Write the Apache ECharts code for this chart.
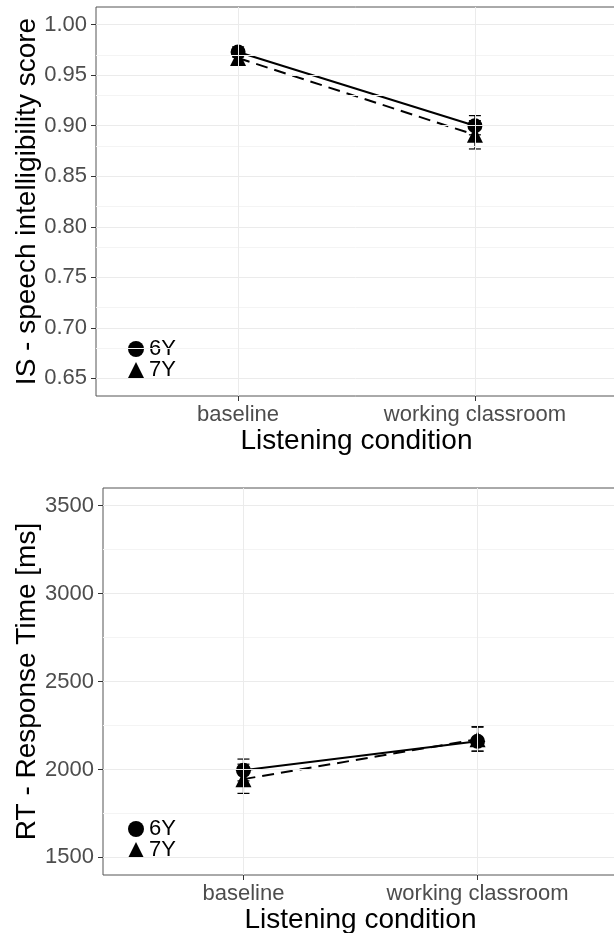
<!DOCTYPE html>
<html>
<head>
<meta charset="utf-8">
<script src="https://cdn.jsdelivr.net/npm/echarts@6/dist/echarts.min.js"></script>
<style>
html,body{margin:0;padding:0;background:#fff;}
#chart{width:614px;height:933px;}
</style>
</head>
<body>
<div id="chart"></div>
<script>
// ---------- data ----------
const categories = ['baseline', 'working classroom'];
const xPositions = [1, 2];
const groups = ['6Y', '7Y'];

// IS - speech intelligibility score
const isMean6Y = [0.973, 0.900];
const isMean7Y = [0.967, 0.891];
const isLow6Y  = [0.968, 0.891];
const isHigh6Y = [0.978, 0.910];
const isLow7Y  = [0.960, 0.877];
const isHigh7Y = [0.974, 0.905];

// RT - response time [ms]
const rtMean6Y = [1995, 2160];
const rtMean7Y = [1945, 2172];
const rtLow6Y  = [1935, 2104];
const rtHigh6Y = [2059, 2240];
const rtLow7Y  = [1864, 2104];
const rtHigh7Y = [2030, 2245];

// ticks
const isTicks = [0.65, 0.70, 0.75, 0.80, 0.85, 0.90, 0.95, 1.00];
const isMinor = [0.675, 0.725, 0.775, 0.825, 0.875, 0.925, 0.975];
const rtTicks = [1500, 2000, 2500, 3000, 3500];
const rtMinor = [1750, 2250, 2750, 3250];

// ---------- helpers ----------
const FONT = '"Liberation Sans", Arial, Helvetica, sans-serif';
const GRID_MAJOR = '#ebebeb';
const GRID_MINOR = '#f4f4f4';

function pairs(vals) { return xPositions.map((x, i) => [x, vals[i]]); }
function triples(lo, hi) { return xPositions.map((x, i) => [x, lo[i], hi[i]]); }

function gridLineSeries(gi, majors, minors) {
  const data = [];
  minors.forEach(v => data.push({ yAxis: v, lineStyle: { color: GRID_MINOR, width: 1, type: 'solid' } }));
  majors.forEach(v => data.push({ yAxis: v, lineStyle: { color: GRID_MAJOR, width: 1, type: 'solid' } }));
  xPositions.forEach(v => data.push({ xAxis: v, lineStyle: { color: GRID_MAJOR, width: 1, type: 'solid' } }));
  return {
    type: 'line', name: 'grid' + gi, xAxisIndex: gi, yAxisIndex: gi, data: [], z: 0,
    silent: true,
    markLine: { silent: true, symbol: ['none', 'none'], label: { show: false }, animation: false,
      emphasis: { disabled: true }, data: data }
  };
}

function errSeries(gi, name, lo, hi) {
  return {
    type: 'custom', name: name, xAxisIndex: gi, yAxisIndex: gi, z: 2, silent: true,
    data: triples(lo, hi),
    encode: { x: 0, y: [1, 2] },
    renderItem: function (params, api) {
      const x = api.value(0);
      const a = api.coord([x, api.value(1)]);
      const b = api.coord([x, api.value(2)]);
      const hw = 6;
      const st = { stroke: '#000', lineWidth: 1.2 };
      return { type: 'group', children: [
        { type: 'line', shape: { x1: a[0], y1: a[1], x2: b[0], y2: b[1] }, style: st },
        { type: 'line', shape: { x1: a[0] - hw, y1: a[1], x2: a[0] + hw, y2: a[1] }, style: st },
        { type: 'line', shape: { x1: b[0] - hw, y1: b[1], x2: b[0] + hw, y2: b[1] }, style: st }
      ]};
    }
  };
}

function lineSeries(gi, name, vals, symbol, dashed) {
  return {
    type: 'line', name: name, xAxisIndex: gi, yAxisIndex: gi, z: 3,
    data: pairs(vals),
    symbol: symbol, symbolSize: symbol === 'circle' ? 15 : 16,
    showSymbol: true,
    itemStyle: { color: '#000' },
    lineStyle: { color: '#000', width: 2, type: dashed ? [12, 7] : 'solid' },
    emphasis: { disabled: true }
  };
}

function xAxis(gi) {
  return {
    type: 'value', gridIndex: gi, min: 0.4, max: 2.6,
    axisLine: { show: false },
    axisTick: { show: true, length: 5, lineStyle: { color: '#333', width: 1 }, customValues: xPositions },
    axisLabel: { customValues: xPositions, fontSize: 22, color: '#4d4d4d', fontFamily: FONT, margin: 8,
      formatter: v => categories[Math.round(v) - 1] },
    splitLine: { show: false },
    name: 'Listening condition', nameLocation: 'middle', nameGap: 31, nameMoveOverlap: false,
    nameTextStyle: { fontSize: 28, color: '#000', fontFamily: FONT }
  };
}

function yAxis(gi, min, max, ticks, name, gap, fmt) {
  return {
    type: 'value', gridIndex: gi, min: min, max: max,
    axisLine: { show: false },
    axisTick: { show: true, length: 5, lineStyle: { color: '#333', width: 1 }, customValues: ticks },
    axisLabel: { customValues: ticks, fontSize: 22, color: '#4d4d4d', fontFamily: FONT, margin: 9, formatter: fmt },
    splitLine: { show: false },
    name: name, nameLocation: 'middle', nameGap: gap, nameMoveOverlap: false,
    nameTextStyle: { fontSize: 28, color: '#000', fontFamily: FONT }
  };
}

function legend(left, top) {
  return {
    data: [{ name: '6Y', icon: 'circle' }, { name: '7Y', icon: 'triangle' }],
    orient: 'vertical', left: left, top: top,
    itemWidth: 16, itemHeight: 16, itemGap: -1,
    backgroundColor: '#fff', padding: [5, 6, 5, 10],
    selectedMode: false,
    textStyle: { fontSize: 22, color: '#000', fontFamily: FONT }
  };
}

const chart = echarts.init(document.getElementById('chart'), null, { renderer: 'canvas' });
chart.setOption({
  animation: false,
  backgroundColor: '#fff',
  color: ['#000', '#000'],
  textStyle: { fontFamily: FONT },
  grid: [
    { left: 96, top: 7, width: 521, height: 389, show: true, borderColor: '#555', borderWidth: 1,
      backgroundColor: 'transparent', containLabel: false, outerBoundsMode: 'none' },
    { left: 103, top: 488, width: 515, height: 387, show: true, borderColor: '#555', borderWidth: 1,
      backgroundColor: 'transparent', containLabel: false, outerBoundsMode: 'none' }
  ],
  xAxis: [xAxis(0), xAxis(1)],
  yAxis: [
    yAxis(0, 0.6325, 1.0175, isTicks, 'IS - speech intelligibility score', 55, v => Number(v).toFixed(2)),
    yAxis(1, 1400, 3600, rtTicks, 'RT - Response Time [ms]', 62, v => String(Math.round(v)))
  ],
  legend: [legend(118, 333), legend(118, 813)],
  series: [
    gridLineSeries(0, isTicks, isMinor),
    gridLineSeries(1, rtTicks, rtMinor),
    errSeries(0, 'err6Y_is', isLow6Y, isHigh6Y),
    errSeries(0, 'err7Y_is', isLow7Y, isHigh7Y),
    errSeries(1, 'err6Y_rt', rtLow6Y, rtHigh6Y),
    errSeries(1, 'err7Y_rt', rtLow7Y, rtHigh7Y),
    lineSeries(0, groups[0], isMean6Y, 'circle', false),
    lineSeries(0, groups[1], isMean7Y, 'triangle', true),
    lineSeries(1, groups[0], rtMean6Y, 'circle', false),
    lineSeries(1, groups[1], rtMean7Y, 'triangle', true)
  ]
});
</script>
</body>
</html>
